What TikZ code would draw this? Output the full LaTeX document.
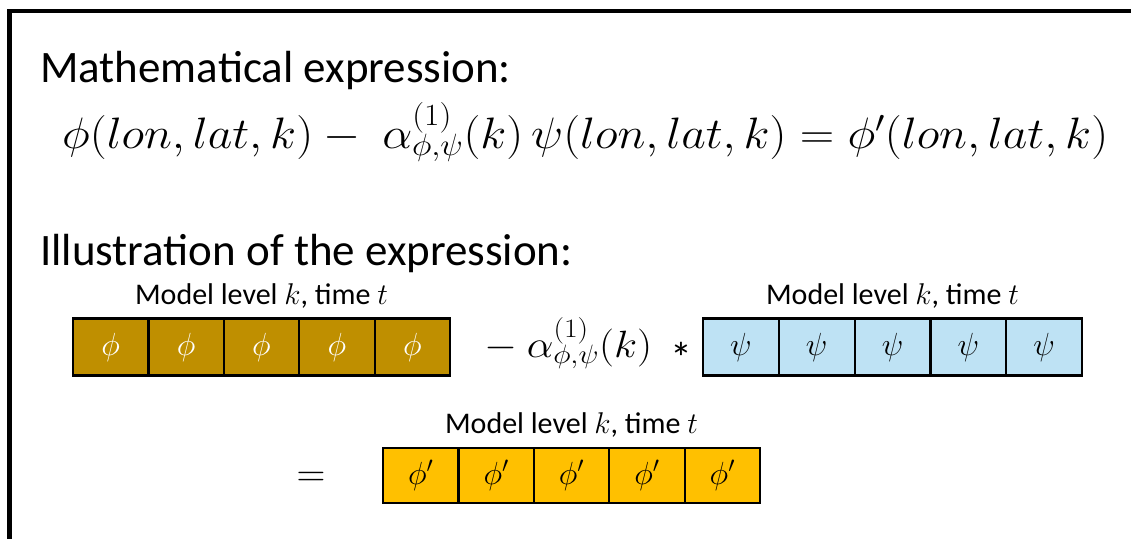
\RequirePackage{fix-cm}
\documentclass[tikz,border=0pt]{standalone}
\usepackage{graphicx}
\usepackage{fontspec}
\setmainfont{Carlito}
\usetikzlibrary{positioning}
\definecolor{darkgold}{RGB}{191,143,0}
\definecolor{skyblue}{RGB}{190,226,244}
\definecolor{gold}{RGB}{255,192,0}
\tikzset{
  cell/.style={draw, line width=2.2pt, minimum width=75.4pt, minimum height=57pt, inner sep=0pt, font=\fontsize{32}{34}\selectfont},
  heading/.style={anchor=base west, inner sep=0pt, font=\fontsize{45}{50}\selectfont},
  levellabel/.style={anchor=base, inner sep=0pt, font=\fontsize{30}{32}\selectfont}
}
\begin{document}
\begin{tikzpicture}[x=1pt, y=-1pt]
    \useasboundingbox (0,0) rectangle (1131,538);
    \clip (0,0) rectangle (1131,538);
    % Frame
    \draw[line width=4.5pt] (9.5,560) -- (9.5,11) -- (1160,11);
    % Headings
    \node[heading] (mathhead) at (40,82) {Mathematical expression:};
    \node[anchor=base west, inner sep=0pt, font=\fontsize{44}{50}\selectfont] (expr) at (62,148)
        {\resizebox{1046pt}{\height}{$\phi(lon,lat,k)-\ \alpha^{(1)}_{\phi,\psi}(k)\,\psi(lon,lat,k)=\phi'(lon,lat,k)$}};
    \node[heading] (illushead) at (40,265) {Illustration of the expression:};
    % Cells
    \foreach \i in {1,...,5}
        \node[cell, fill=darkgold, text=white] (phi\i) at ({73+75.4*(\i-0.5)},347) {$\phi$};
    \foreach \i in {1,...,5}
        \node[cell, fill=skyblue, minimum width=75.8pt] (psi\i) at ({703+75.8*(\i-0.5)},347) {$\psi$};
    \foreach \i in {1,...,5}
        \node[cell, fill=gold, minimum height=55pt] (phip\i) at ({383+75.4*(\i-0.5)},475.5) {$\phi'$};
    % Labels
    \node[levellabel] (lblphi) at ([yshift=13pt]phi3.north) {Model level $k$, time $t$};
    \node[levellabel] (lblpsi) at ([yshift=13pt]psi3.north) {Model level $k$, time $t$};
    \node[levellabel] (lblphip) at ([yshift=13pt]phip3.north) {Model level $k$, time $t$};
    \node[anchor=base west, inner sep=0pt, font=\fontsize{38}{40}\selectfont] (coef) at (484,357)
        {\resizebox{168pt}{\height}{$-\ \alpha^{(1)}_{\phi,\psi}(k)$}};
    \node[anchor=base, inner sep=0pt, font=\fontsize{44}{46}\selectfont] (star) at (681,373) {*};
    \node[inner sep=0pt, font=\fontsize{40}{40}\selectfont] (equal) at (311,479) {$=$};
\end{tikzpicture}
\end{document}
